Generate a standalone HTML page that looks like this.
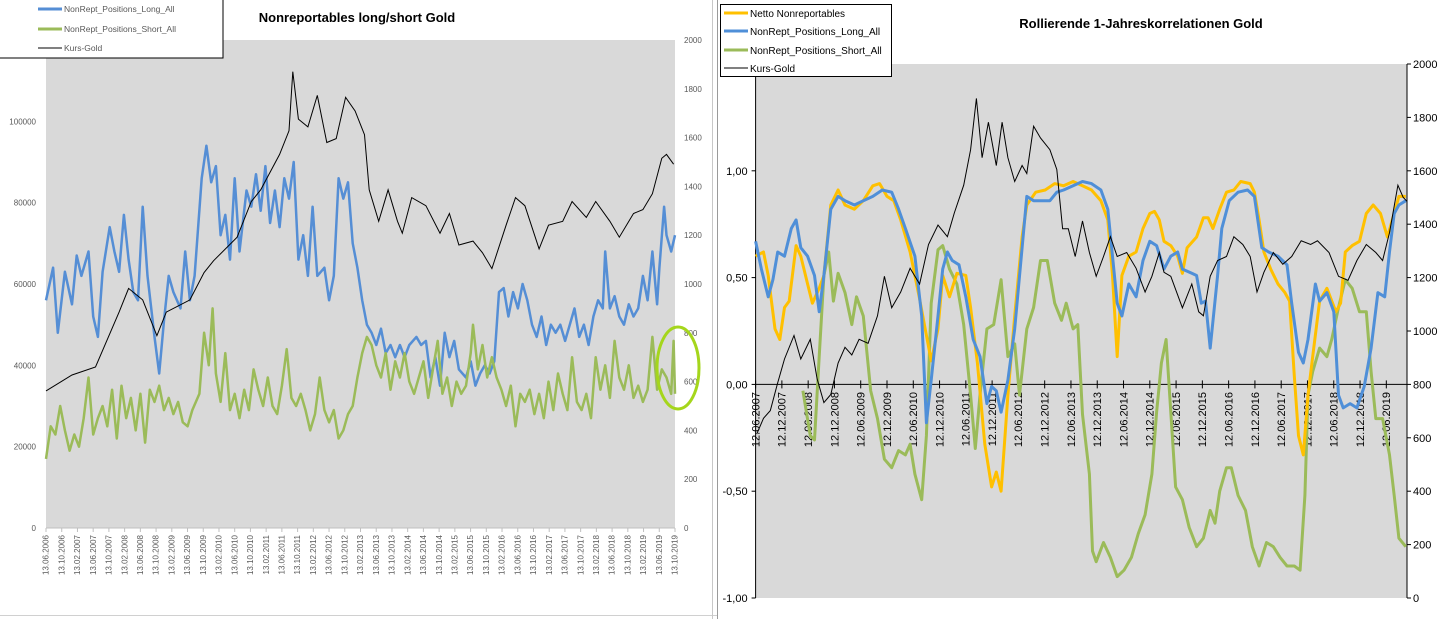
<!DOCTYPE html>
<html><head><meta charset="utf-8"><style>
html,body{margin:0;padding:0;background:#fff;}
svg{display:block;font-family:"Liberation Sans",Arial,sans-serif;}
</style></head><body>
<svg id="root" width="1440" height="619" viewBox="0 0 1440 619" xmlns="http://www.w3.org/2000/svg">
<g id="left"></g>
<g id="right"></g>
</svg>
<script>
// ---------- LEFT CHART DATA ----------
const leftGoldYears = [2006.45,2007.0,2007.5,2008.0,2008.2,2008.5,2008.8,2009.0,2009.5,2009.8,2010.0,2010.5,2010.8,2011.0,2011.4,2011.6,2011.68,2011.8,2012.0,2012.2,2012.4,2012.6,2012.8,2013.0,2013.2,2013.3,2013.5,2013.7,2013.9,2014.0,2014.2,2014.5,2014.8,2015.0,2015.2,2015.5,2015.7,2015.9,2016.2,2016.4,2016.6,2016.9,2017.1,2017.4,2017.6,2017.9,2018.1,2018.4,2018.6,2018.9,2019.1,2019.3,2019.5,2019.6,2019.75];
const leftGoldValues = [562,627,660,885,982,935,788,885,935,1047,1095,1192,1338,1386,1531,1628,1870,1676,1644,1773,1580,1596,1765,1709,1612,1386,1257,1386,1257,1208,1354,1321,1208,1289,1160,1176,1128,1063,1241,1354,1321,1144,1241,1257,1338,1273,1338,1257,1192,1289,1305,1370,1515,1531,1491];
const leftLongYears = [2006.45,2006.6,2006.7,2006.85,2007.0,2007.1,2007.2,2007.35,2007.45,2007.55,2007.65,2007.8,2007.9,2008.0,2008.1,2008.2,2008.3,2008.4,2008.5,2008.6,2008.75,2008.85,2008.95,2009.05,2009.15,2009.3,2009.4,2009.5,2009.6,2009.75,2009.85,2009.95,2010.05,2010.15,2010.25,2010.35,2010.45,2010.55,2010.7,2010.8,2010.9,2011.0,2011.1,2011.2,2011.3,2011.4,2011.5,2011.6,2011.7,2011.8,2011.9,2012.0,2012.1,2012.2,2012.35,2012.45,2012.55,2012.65,2012.75,2012.85,2012.95,2013.05,2013.15,2013.25,2013.35,2013.45,2013.55,2013.65,2013.75,2013.85,2013.95,2014.05,2014.15,2014.3,2014.4,2014.5,2014.6,2014.7,2014.8,2014.9,2015.0,2015.1,2015.2,2015.35,2015.45,2015.55,2015.65,2015.75,2015.85,2015.95,2016.05,2016.15,2016.25,2016.35,2016.45,2016.55,2016.65,2016.75,2016.85,2016.95,2017.05,2017.15,2017.25,2017.35,2017.45,2017.55,2017.65,2017.75,2017.85,2017.95,2018.05,2018.15,2018.25,2018.3,2018.4,2018.5,2018.6,2018.7,2018.8,2018.9,2019.0,2019.1,2019.2,2019.3,2019.4,2019.45,2019.55,2019.6,2019.7,2019.78];
const leftLongValues = [56,64,48,63,55,67,62,68,52,47,63,74,68,63,77,66,58,56,79,62,47,38,51,62,58,54,68,56,62,86,94,85,89,72,77,66,86,68,83,79,87,78,89,75,83,74,86,81,90,66,72,62,79,62,64,56,62,86,81,85,70,64,56,50,48,45,49,43,45,42,45,42,45,47,45,46,37,42,35,48,42,46,39,37,41,35,38,40,38,41,58,59,52,58,54,60,56,50,47,52,45,50,48,50,46,50,54,47,50,45,52,56,54,68,54,57,52,50,55,52,54,62,56,68,55,64,79,72,68,72];
const leftShortYears = [2006.45,2006.55,2006.65,2006.75,2006.85,2006.95,2007.05,2007.15,2007.25,2007.35,2007.45,2007.55,2007.65,2007.75,2007.85,2007.95,2008.05,2008.15,2008.25,2008.35,2008.45,2008.55,2008.65,2008.75,2008.85,2008.95,2009.05,2009.15,2009.25,2009.35,2009.45,2009.55,2009.7,2009.8,2009.9,2009.98,2010.05,2010.15,2010.25,2010.35,2010.45,2010.55,2010.65,2010.75,2010.85,2010.95,2011.05,2011.15,2011.25,2011.35,2011.45,2011.55,2011.65,2011.75,2011.85,2011.95,2012.05,2012.15,2012.25,2012.35,2012.45,2012.55,2012.65,2012.75,2012.85,2012.95,2013.05,2013.15,2013.25,2013.35,2013.45,2013.55,2013.65,2013.75,2013.85,2013.95,2014.05,2014.15,2014.25,2014.35,2014.45,2014.55,2014.65,2014.75,2014.85,2014.95,2015.05,2015.15,2015.25,2015.35,2015.45,2015.5,2015.6,2015.7,2015.8,2015.9,2016.0,2016.1,2016.2,2016.3,2016.4,2016.5,2016.6,2016.7,2016.8,2016.9,2017.0,2017.1,2017.2,2017.3,2017.4,2017.5,2017.6,2017.7,2017.8,2017.9,2018.0,2018.1,2018.2,2018.3,2018.4,2018.5,2018.6,2018.7,2018.8,2018.9,2019.0,2019.1,2019.2,2019.3,2019.4,2019.5,2019.6,2019.7,2019.75,2019.78];
const leftShortValues = [17,25,23,30,24,19,23,20,27,37,23,27,30,25,34,22,35,27,32,24,33,21,34,31,35,29,32,28,31,26,25,29,33,48,40,54,38,31,43,29,33,27,34,29,39,34,30,37,30,28,35,44,32,30,33,29,24,28,37,29,26,29,22,24,28,30,37,43,47,45,40,37,43,34,41,37,43,36,33,37,41,32,39,46,33,37,30,36,33,35,43,50,39,45,37,42,37,34,30,35,25,33,31,34,28,33,27,36,29,38,33,29,42,31,29,33,27,42,34,40,32,46,37,34,40,32,35,31,34,47,34,39,37,33,46,33];
const leftXTickLabels = ["13.06.2006","13.10.2006","13.02.2007","13.06.2007","13.10.2007","13.02.2008","13.06.2008","13.10.2008","13.02.2009","13.06.2009","13.10.2009","13.02.2010","13.06.2010","13.10.2010","13.02.2011","13.06.2011","13.10.2011","13.02.2012","13.06.2012","13.10.2012","13.02.2013","13.06.2013","13.10.2013","13.02.2014","13.06.2014","13.10.2014","13.02.2015","13.06.2015","13.10.2015","13.02.2016","13.06.2016","13.10.2016","13.02.2017","13.06.2017","13.10.2017","13.02.2018","13.06.2018","13.10.2018","13.02.2019","13.06.2019","13.10.2019"];
const leftYTicks = [0,20000,40000,60000,80000,100000];
const leftY2Ticks = [0,200,400,600,800,1000,1200,1400,1600,1800,2000];

// ---------- RIGHT CHART DATA ----------
const netYears = [2007.45,2007.60,2007.69,2007.82,2007.91,2008.00,2008.09,2008.22,2008.31,2008.44,2008.53,2008.66,2008.75,2008.88,2009.02,2009.15,2009.33,2009.50,2009.68,2009.81,2009.95,2010.08,2010.21,2010.39,2010.57,2010.79,2010.92,2011.01,2011.14,2011.28,2011.45,2011.54,2011.67,2011.81,2011.94,2012.03,2012.12,2012.25,2012.38,2012.52,2012.61,2012.78,2012.96,2013.14,2013.31,2013.49,2013.67,2013.84,2014.02,2014.15,2014.24,2014.33,2014.42,2014.55,2014.69,2014.82,2014.95,2015.04,2015.13,2015.22,2015.35,2015.48,2015.57,2015.66,2015.84,2015.97,2016.06,2016.15,2016.28,2016.41,2016.55,2016.68,2016.86,2016.94,2017.03,2017.12,2017.25,2017.39,2017.52,2017.61,2017.70,2017.78,2017.87,2017.96,2018.05,2018.18,2018.32,2018.49,2018.58,2018.67,2018.80,2018.94,2019.07,2019.20,2019.34,2019.47,2019.60,2019.69,2019.82];
const netValues = [.60,.62,.51,.26,.21,.36,.39,.65,.60,.47,.38,.45,.51,.84,.91,.84,.82,.86,.93,.94,.88,.86,.77,.62,.40,.11,.26,.51,.41,.52,.51,.36,.10,-.28,-.48,-.41,-.50,-.05,.32,.69,.84,.90,.91,.94,.93,.95,.93,.91,.86,.77,.51,.13,.51,.60,.62,.73,.80,.81,.77,.67,.65,.60,.52,.64,.69,.78,.78,.73,.82,.90,.91,.95,.94,.90,.77,.62,.54,.47,.43,.39,.04,-.24,-.33,-.05,.13,.39,.45,.34,.38,.62,.65,.67,.80,.84,.80,.69,.80,.88,.88];
const corrLongYears = [2007.45,2007.56,2007.69,2007.78,2007.87,2008.00,2008.13,2008.22,2008.31,2008.44,2008.57,2008.66,2008.75,2008.88,2009.02,2009.15,2009.33,2009.50,2009.68,2009.86,2010.04,2010.17,2010.30,2010.48,2010.61,2010.70,2010.79,2010.92,2011.01,2011.10,2011.19,2011.32,2011.45,2011.59,2011.72,2011.85,2011.94,2012.03,2012.12,2012.25,2012.38,2012.52,2012.61,2012.74,2012.87,2013.05,2013.18,2013.31,2013.49,2013.67,2013.84,2014.02,2014.15,2014.24,2014.33,2014.42,2014.55,2014.69,2014.82,2014.95,2015.08,2015.22,2015.35,2015.48,2015.57,2015.75,2015.84,2015.93,2016.01,2016.10,2016.24,2016.32,2016.46,2016.63,2016.81,2016.94,2017.08,2017.21,2017.39,2017.56,2017.65,2017.78,2017.87,2017.96,2018.10,2018.18,2018.32,2018.45,2018.54,2018.63,2018.76,2018.89,2019.03,2019.16,2019.29,2019.42,2019.51,2019.60,2019.69,2019.82];
const corrLongValues = [.67,.54,.41,.49,.62,.60,.73,.77,.64,.60,.51,.34,.51,.82,.88,.86,.84,.86,.88,.91,.90,.82,.73,.60,.32,-.18,.02,.32,.54,.62,.58,.56,.41,.21,.13,-.09,-.01,-.03,-.13,.02,.26,.64,.88,.86,.86,.86,.90,.91,.93,.95,.94,.91,.82,.60,.38,.32,.47,.41,.58,.67,.65,.54,.60,.62,.54,.52,.51,.38,.39,.17,.51,.73,.86,.90,.91,.88,.64,.62,.60,.56,.38,.15,.10,.21,.47,.39,.43,.34,-.05,-.11,-.09,-.11,-.01,.17,.43,.41,.62,.80,.84,.86];
const corrShortYears = [2008.35,2008.49,2008.57,2008.66,2008.75,2008.84,2008.93,2009.02,2009.15,2009.28,2009.37,2009.50,2009.64,2009.77,2009.90,2010.04,2010.17,2010.30,2010.39,2010.48,2010.61,2010.70,2010.79,2010.92,2011.01,2011.14,2011.28,2011.41,2011.54,2011.63,2011.72,2011.85,2011.98,2012.12,2012.25,2012.38,2012.47,2012.61,2012.74,2012.87,2013.00,2013.14,2013.27,2013.36,2013.49,2013.58,2013.67,2013.80,2013.86,2013.93,2014.07,2014.20,2014.33,2014.46,2014.60,2014.73,2014.86,2014.99,2015.08,2015.17,2015.26,2015.35,2015.44,2015.57,2015.70,2015.84,2015.97,2016.10,2016.19,2016.28,2016.41,2016.50,2016.63,2016.77,2016.90,2017.03,2017.17,2017.30,2017.43,2017.56,2017.70,2017.81,2017.90,2017.96,2018.05,2018.18,2018.32,2018.41,2018.54,2018.67,2018.80,2018.94,2019.07,2019.16,2019.25,2019.38,2019.51,2019.60,2019.69,2019.82];
const corrShortValues = [-.03,-.24,-.26,.13,.51,.62,.39,.52,.43,.28,.41,.32,-.03,-.16,-.35,-.39,-.31,-.33,-.28,-.42,-.54,-.24,.38,.63,.65,.54,.47,.28,-.05,-.30,-.05,.26,.28,.49,.13,.19,-.05,.26,.36,.58,.58,.38,.30,.38,.26,.28,-.14,-.42,-.78,-.83,-.74,-.81,-.90,-.87,-.81,-.70,-.61,-.42,-.13,.10,.21,-.13,-.48,-.54,-.67,-.76,-.72,-.59,-.65,-.50,-.39,-.39,-.52,-.59,-.76,-.85,-.74,-.76,-.81,-.85,-.85,-.87,-.52,-.05,.06,.17,.13,.21,.36,.49,.45,.34,.34,.06,-.16,-.16,-.33,-.52,-.72,-.76];
const rightGoldYears = [2007.47,2007.60,2007.73,2007.87,2008.00,2008.18,2008.31,2008.49,2008.62,2008.75,2008.88,2009.02,2009.15,2009.28,2009.42,2009.59,2009.77,2009.90,2010.04,2010.21,2010.39,2010.57,2010.74,2010.92,2011.10,2011.23,2011.41,2011.54,2011.65,2011.76,2011.88,2012.03,2012.14,2012.25,2012.38,2012.52,2012.61,2012.74,2012.87,2013.05,2013.18,2013.29,2013.40,2013.53,2013.67,2013.80,2013.93,2014.07,2014.20,2014.33,2014.51,2014.69,2014.86,2014.99,2015.13,2015.22,2015.35,2015.57,2015.75,2015.88,2015.97,2016.10,2016.24,2016.41,2016.55,2016.72,2016.86,2016.99,2017.12,2017.30,2017.48,2017.65,2017.83,2018.01,2018.14,2018.36,2018.54,2018.72,2018.89,2019.07,2019.25,2019.38,2019.51,2019.67,2019.77,2019.84];
const rightGoldValues = [614,673,702,806,895,983,895,969,821,732,762,880,939,910,969,954,1057,1205,1087,1146,1235,1176,1324,1397,1353,1442,1546,1679,1871,1649,1782,1620,1782,1649,1560,1620,1590,1767,1723,1679,1605,1383,1383,1279,1412,1294,1205,1279,1353,1279,1294,1235,1146,1205,1294,1220,1205,1087,1176,1072,1057,1205,1264,1279,1353,1324,1279,1146,1220,1294,1250,1279,1338,1324,1338,1294,1205,1190,1264,1324,1294,1264,1368,1546,1501,1486];
const rightXTickLabels = ["12.06.2007","12.12.2007","12.06.2008","12.12.2008","12.06.2009","12.12.2009","12.06.2010","12.12.2010","12.06.2011","12.12.2011","12.06.2012","12.12.2012","12.06.2013","12.12.2013","12.06.2014","12.12.2014","12.06.2015","12.12.2015","12.06.2016","12.12.2016","12.06.2017","12.12.2017","12.06.2018","12.12.2018","12.06.2019"];
const rightYTicks = [-1,-0.5,0,0.5,1];
const rightYTickLabels = ["-1,00","-0,50","0,00","0,50","1,00"];
const rightY2Ticks = [0,200,400,600,800,1000,1200,1400,1600,1800,2000];

const NS = "http://www.w3.org/2000/svg";
function mk(parent, tag, attrs, text) {
  const e = document.createElementNS(NS, tag);
  for (const k in attrs) e.setAttribute(k, attrs[k]);
  if (text !== undefined) e.textContent = text;
  parent.appendChild(e);
  return e;
}
function pathD(xs, ys, xf, yf) {
  const n = Math.min(xs.length, ys.length);
  let d = "";
  for (let i = 0; i < n; i++) d += (i ? "L" : "M") + xf(xs[i]).toFixed(1) + "," + yf(ys[i]).toFixed(1);
  return d;
}

// ---------- LEFT ----------
(function(){
  const g = document.getElementById("left");
  const X0 = 46, X1 = 675, Y0 = 40, Y1 = 528;
  const xL = v => X0 + (v - 2006.45) / (2019.78 - 2006.45) * (X1 - X0);
  const yL = v => Y1 - v / 120000 * (Y1 - Y0);
  const yG = v => Y1 - v / 2000 * (Y1 - Y0);
  const bg = mk(g, "rect", {x:X0, y:Y0, width:X1-X0, height:Y1-Y0, fill:"#d9d9d9"});
  
  
  const t = mk(g, "text", {x:357, y:22, "text-anchor":"middle", "font-size":"13", "font-weight":"bold", fill:"#000"}, "Nonreportables long/short Gold");
  
  
  leftYTicks.forEach(v => {
    const tx = mk(g, "text", {x:36, y:yL(v)+3, "text-anchor":"end", "font-size":"8", fill:"#595959"}, String(v));
    
    
  });
  leftY2Ticks.forEach(v => {
    const tx = mk(g, "text", {x:684, y:yG(v)+3, "font-size":"8", fill:"#595959"}, String(v));
    
    
  });
  const ax = mk(g, "line", {x1:X0, y1:Y1, x2:X1, y2:Y1, stroke:"#bfbfbf", "stroke-width":1});
  
  
  const n = leftXTickLabels.length;
  leftXTickLabels.forEach((lab, i) => {
    const x = X0 + i * (X1 - X0) / (n - 1);
    mk(g, "line", {x1:x, y1:Y1, x2:x, y2:Y1+4, stroke:"#bfbfbf"});
    const tx = mk(g, "text", {x:x, y:535, "text-anchor":"end", "font-size":"8", fill:"#595959", dy:"0.33em", transform:`rotate(-90 ${x} 535)`}, lab);
    
    
  });
  const pl = mk(g, "path", {d:pathD(leftLongYears, leftLongValues.map(v=>v*1000), xL, yL), fill:"none", stroke:"#558ed5", "stroke-width":2.5, "stroke-linejoin":"round"});
  
  
  const ps = mk(g, "path", {d:pathD(leftShortYears, leftShortValues.map(v=>v*1000), xL, yL), fill:"none", stroke:"#9bbb59", "stroke-width":2.5, "stroke-linejoin":"round"});
  
  
  const pg = mk(g, "path", {d:pathD(leftGoldYears, leftGoldValues, xL, yG), fill:"none", stroke:"#000", "stroke-width":1});
  
  
  const el = mk(g, "ellipse", {cx:678, cy:368, rx:21, ry:41, fill:"none", stroke:"#a5d61c", "stroke-width":3});
  
  
  // legend
  const lg = mk(g, "g", {});
  
  
  mk(lg, "rect", {x:-1, y:-1, width:224, height:59, fill:"#fff", stroke:"#000", "stroke-width":1});
  [["NonRept_Positions_Long_All","#558ed5",3,9],["NonRept_Positions_Short_All","#9bbb59",3,29],["Kurs-Gold","#000",1,48]].forEach(e => {
    const eg = mk(lg, "g", {});
    
    
    mk(eg, "line", {x1:38, y1:e[3], x2:62, y2:e[3], stroke:e[1], "stroke-width":e[2]});
    mk(eg, "text", {x:64, y:e[3]+3, "font-size":"8.5", fill:"#595959"}, e[0]);
  });
  mk(g, "line", {x1:717.5, y1:0, x2:717.5, y2:619, stroke:"#9a9a9a"});
  mk(g, "line", {x1:0, y1:615.5, x2:717, y2:615.5, stroke:"#d0d0d0"});
})();

// ---------- RIGHT ----------
(function(){
  const g = document.getElementById("right");
  const X0 = 755.6, X1 = 1407, Y0 = 64, Y1 = 598;
  const xR = v => X0 + (v - 2007.45) * 52.56;
  const yR = v => Y1 - (v + 1) / 2.5 * (Y1 - Y0);
  const yG = v => Y1 - v / 2000 * (Y1 - Y0);
  const bg = mk(g, "rect", {x:X0, y:Y0, width:X1-X0, height:Y1-Y0, fill:"#d9d9d9"});
  
  
  mk(g, "line", {x1:712.5, y1:0, x2:712.5, y2:619, stroke:"#c8c8c8"});
  const t = mk(g, "text", {x:1141, y:28, "text-anchor":"middle", "font-size":"13", "font-weight":"bold", fill:"#000"}, "Rollierende 1-Jahreskorrelationen Gold");
  
  
  mk(g, "line", {x1:X0, y1:Y0, x2:X0, y2:Y1, stroke:"#000"});
  mk(g, "line", {x1:X1, y1:Y0, x2:X1, y2:Y1, stroke:"#000"});
  rightYTicks.forEach((v, i) => {
    mk(g, "line", {x1:X0-4, y1:yR(v), x2:X0, y2:yR(v), stroke:"#000"});
    const tx = mk(g, "text", {x:X0-8, y:yR(v)+4, "text-anchor":"end", "font-size":"11", fill:"#000"}, rightYTickLabels[i]);
    
    
  });
  rightY2Ticks.forEach(v => {
    mk(g, "line", {x1:X1, y1:yG(v), x2:X1+4, y2:yG(v), stroke:"#000"});
    const tx = mk(g, "text", {x:X1+6, y:yG(v)+4, "font-size":"11", fill:"#000"}, String(v));
    
    
  });
  const zl = mk(g, "line", {x1:X0, y1:yR(0), x2:X1, y2:yR(0), stroke:"#000"});
  
  
  rightXTickLabels.forEach((lab, i) => {
    const x = xR(2007.45 + i * 0.5);
    mk(g, "line", {x1:x, y1:yR(0)-4, x2:x, y2:yR(0)+4, stroke:"#000"});
    const tx = mk(g, "text", {x:x, y:392, "text-anchor":"end", "font-size":"11", fill:"#000", dy:"0.35em", transform:`rotate(-90 ${x} 392)`}, lab);
    
    
  });
  const ps = mk(g, "path", {d:pathD(corrShortYears, corrShortValues, xR, yR), fill:"none", stroke:"#9bbb59", "stroke-width":3, "stroke-linejoin":"round"});
  
  
  const pn = mk(g, "path", {d:pathD(netYears, netValues, xR, yR), fill:"none", stroke:"#ffc000", "stroke-width":3, "stroke-linejoin":"round"});
  
  
  const pl = mk(g, "path", {d:pathD(corrLongYears, corrLongValues, xR, yR), fill:"none", stroke:"#4f8fd8", "stroke-width":3, "stroke-linejoin":"round"});
  
  
  const pg = mk(g, "path", {d:pathD(rightGoldYears, rightGoldValues, xR, yG), fill:"none", stroke:"#000", "stroke-width":1});
  
  
  const lg = mk(g, "g", {});
  
  
  mk(lg, "rect", {x:720.5, y:4.5, width:171, height:72, fill:"#fff", stroke:"#000", "stroke-width":1});
  [["Netto Nonreportables","#ffc000",3,13],["NonRept_Positions_Long_All","#4f8fd8",3,31],["NonRept_Positions_Short_All","#9bbb59",3,50],["Kurs-Gold","#000",1,68]].forEach(e => {
    const eg = mk(lg, "g", {});
    
    
    mk(eg, "line", {x1:724, y1:e[3], x2:748, y2:e[3], stroke:e[1], "stroke-width":e[2]});
    mk(eg, "text", {x:750, y:e[3]+4, "font-size":"10", fill:"#000"}, e[0]);
  });
})();
</script>
</body></html>
